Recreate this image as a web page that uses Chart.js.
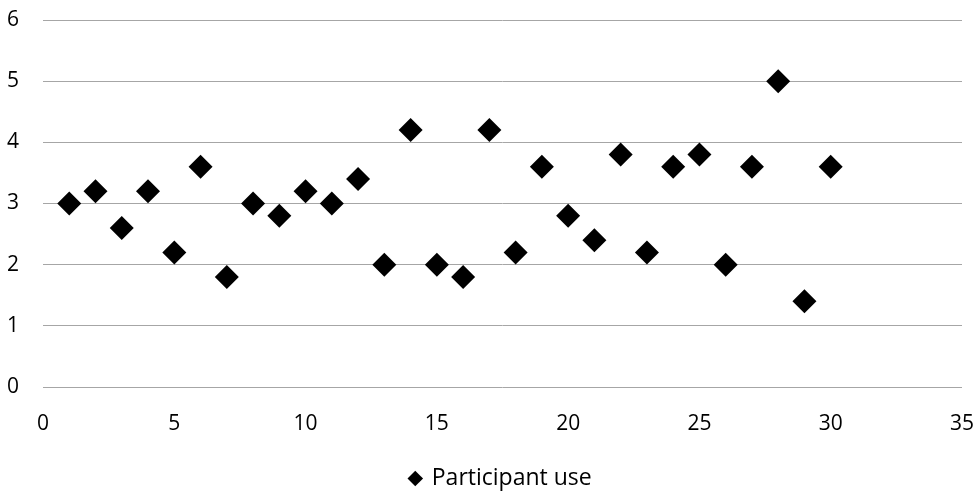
<!DOCTYPE html>
<html>
<head>
<meta charset="utf-8">
<script src="https://cdn.jsdelivr.net/npm/chart.js@4.4.0/dist/chart.umd.min.js"></script>
<style>
  html, body { margin: 0; padding: 0; background: #fff; }
  #wrap { width: 977px; height: 492px; }
</style>
</head>
<body>
<div id="wrap"><canvas id="chart" width="977" height="492"></canvas></div>
<script>
// values
const participants = [1, 2, 3, 4, 5, 6, 7, 8, 9, 10, 11, 12, 13, 14, 15,
                      16, 17, 18, 19, 20, 21, 22, 23, 24, 25, 26, 27, 28, 29, 30];
const useValues = [3.0, 3.2, 2.6, 3.2, 2.2, 3.6, 1.8, 3.0, 2.8, 3.2, 3.0, 3.4, 2.0, 4.2, 2.0,
                   1.8, 4.2, 2.2, 3.6, 2.8, 2.4, 3.8, 2.2, 3.6, 3.8, 2.0, 3.6, 5.0, 1.4, 3.6];
const seriesLabel = 'Participant use';
const xRange = [0, 35];
const yRange = [0, 6];

const points = participants.map((p, i) => ({ x: p, y: useValues[i] }));
const tickFont = { family: '"Open Sans", "DejaVu Sans", sans-serif', size: 21 };
const legendFont = { family: '"Open Sans", "DejaVu Sans", sans-serif', size: 23 };

// legend sits a bit right of the canvas centre in the reference
const legendShift = {
    id: 'legendShift',
    afterLayout(chart) {
        const l = chart.legend;
        if (!l) return;
        l.left += 20;
        l.right += 20;
    }
};

new Chart(document.getElementById('chart'), {
    type: 'scatter',
    data: {
        datasets: [{
            label: seriesLabel,
            data: points,
            pointStyle: 'rectRot',
            pointRadius: 12,
            pointHoverRadius: 12,
            backgroundColor: '#000',
            borderColor: '#000',
            borderWidth: 0
        }]
    },
    options: {
        responsive: false,
        animation: false,
        layout: { padding: { left: 0, right: 15, top: 20, bottom: -8 } },
        plugins: {
            tooltip: { enabled: false },
            legend: {
                position: 'bottom',
                labels: {
                    usePointStyle: true,
                    boxWidth: 10,
                    boxHeight: 11,
                    color: '#000',
                    font: legendFont,
                    padding: 0
                }
            }
        },
        scales: {
            x: {
                type: 'linear',
                min: xRange[0],
                max: xRange[1],
                ticks: { stepSize: 5, color: '#000', font: tickFont, padding: 24 },
                grid: { display: false, drawTicks: false },
                border: { display: false },
                afterFit: s => { s.height = 80; s.paddingLeft = 0; s.paddingRight = 0; }
            },
            y: {
                min: yRange[0],
                max: yRange[1],
                ticks: { stepSize: 1, color: '#000', font: tickFont, padding: 24 },
                grid: { color: '#a6a6a6', lineWidth: 1, drawTicks: false },
                border: { display: false },
                afterFit: s => { s.width = 43; s.paddingTop = 0; s.paddingBottom = 0; }
            }
        }
    },
    plugins: [legendShift]
});
</script>
</body>
</html>
